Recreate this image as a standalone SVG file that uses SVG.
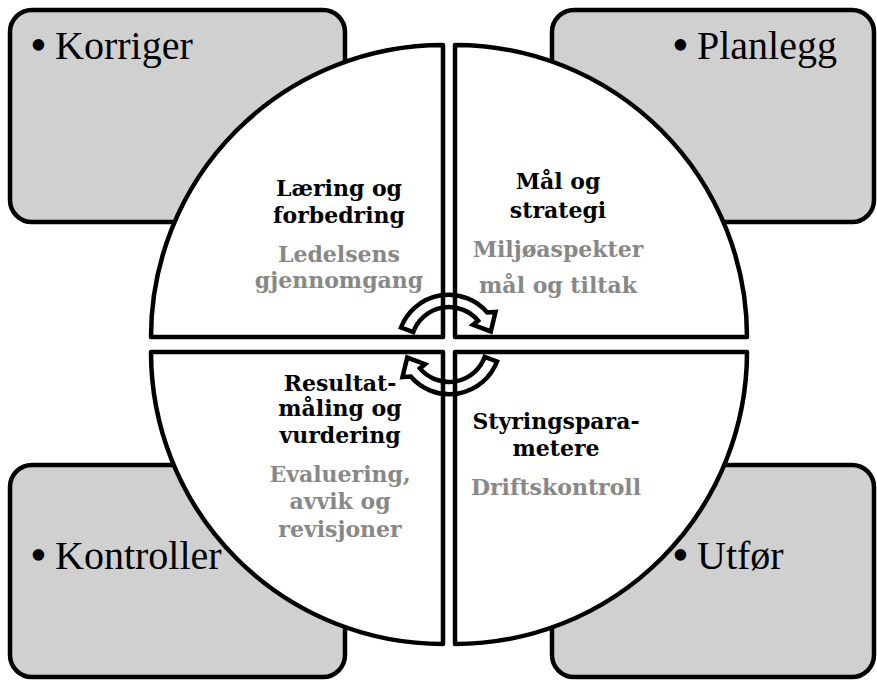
<svg xmlns="http://www.w3.org/2000/svg" width="877" height="680" viewBox="0 0 877 680">
<style>
.box{fill:#d0d0d0;stroke:#000;stroke-width:4.5}
.quad{fill:#fff;stroke:#000;stroke-width:4.5;stroke-linejoin:round}
.big{font-family:"Liberation Serif",serif;font-size:40px;fill:#000}
.bul{font-size:48px}
.h{font-family:"DejaVu Serif","Liberation Serif",serif;font-weight:bold;font-size:22px;fill:#000;text-anchor:middle}
.s{font-family:"DejaVu Serif","Liberation Serif",serif;font-weight:bold;font-size:22px;fill:#888;text-anchor:middle}
.arr{fill:none;stroke:#000;stroke-width:4.5;stroke-linejoin:miter}
</style>
<rect width="877" height="680" fill="#fff"/>
<g id="box-korriger"><rect class="box" x="10" y="10" width="335" height="212" rx="22"/>
<text class="big" y="59"><tspan class="bul" x="30" y="61">•</tspan><tspan x="55" y="59">Korriger</tspan></text></g>
<g id="box-planlegg"><rect class="box" x="552" y="10" width="322" height="212" rx="22"/>
<text class="big" y="59"><tspan class="bul" x="672" y="61">•</tspan><tspan x="697" y="59">Planlegg</tspan></text></g>
<g id="box-kontroller"><rect class="box" x="10" y="465" width="335" height="212" rx="22"/>
<text class="big" y="569"><tspan class="bul" x="30" y="571">•</tspan><tspan x="55" y="569">Kontroller</tspan></text></g>
<g id="box-utfor"><rect class="box" x="552" y="465" width="322" height="212" rx="22"/>
<text class="big" y="569"><tspan class="bul" x="672" y="571">•</tspan><tspan x="697" y="569">Utfør</tspan></text></g>

<g id="quad-laering">
<path class="quad" d="M443,337 L151,337 A292,292 0 0 1 443,45 Z"/>
<text class="h" x="339" y="196">Læring og</text>
<text class="h" x="339" y="223">forbedring</text>
<text class="s" x="339" y="262">Ledelsens</text>
<text class="s" x="339" y="288">gjennomgang</text>
</g>
<g id="quad-maal">
<path class="quad" d="M455,337 L455,45 A292,292 0 0 1 747,337 Z"/>
<text class="h" x="558" y="189">Mål og</text>
<text class="h" x="558" y="218">strategi</text>
<text class="s" x="558" y="257">Miljøaspekter</text>
<text class="s" x="558" y="293">mål og tiltak</text>
</g>
<g id="quad-styring">
<path class="quad" d="M455,352 L747,352 A292,292 0 0 1 455,644 Z"/>
<text class="h" x="556" y="429">Styringspara-</text>
<text class="h" x="556" y="456">metere</text>
<text class="s" x="556" y="495">Driftskontroll</text>
</g>
<g id="quad-resultat">
<path class="quad" d="M443,352 L443,644 A292,292 0 0 1 151,352 Z"/>
<text class="h" x="340" y="391">Resultat-</text>
<text class="h" x="340" y="416">måling og</text>
<text class="h" x="340" y="443">vurdering</text>
<text class="s" x="340" y="482">Evaluering,</text>
<text class="s" x="340" y="509">avvik og</text>
<text class="s" x="340" y="537">revisjoner</text>
</g>

<g id="connectors">
<path id="arrow-top" class="arr" d="M401,327.5 A51,51 0 0 1 487.3,312.5 L495.5,312 L490.8,331.4 L473,324.8 L478.1,320.6 A38,38 0 0 0 413.3,332 Z"/>
<path id="arrow-bottom" class="arr" transform="rotate(180 449 344.5)" d="M401,327.5 A51,51 0 0 1 487.3,312.5 L495.5,312 L490.8,331.4 L473,324.8 L478.1,320.6 A38,38 0 0 0 413.3,332 Z"/>
</g>
</svg>
